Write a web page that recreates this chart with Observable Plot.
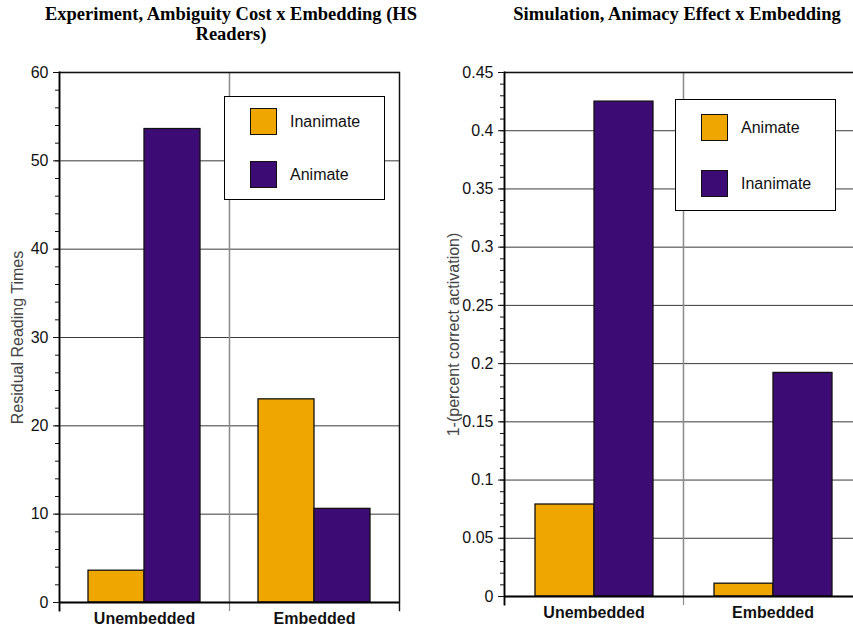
<!DOCTYPE html>
<html>
<head>
<meta charset="utf-8">
<script src="https://cdn.jsdelivr.net/npm/d3@7"></script>
<script src="https://cdn.jsdelivr.net/npm/@observablehq/plot@0.6"></script>
<style>
  html, body { margin: 0; padding: 0; background: #fff; overflow: hidden; }
  #page { position: relative; width: 853px; height: 630px; overflow: hidden; }
  .panel { position: absolute; top: 0; }
  .title { position: absolute; font-family: "Liberation Serif", "Times New Roman", serif; font-weight: bold; font-size: 18.5px; line-height: 20px; text-align: center; color: #000; white-space: nowrap; }
  .legend { position: absolute; border: 1px solid #000; background: #fff; box-sizing: border-box; font-family: "Liberation Sans", Arial, sans-serif; font-size: 16px; color: #111; }
  .legend .item { position: absolute; display: flex; align-items: center; }
  .legend .swatch { width: 27px; height: 27px; border: 1.3px solid #111; box-sizing: border-box; margin-right: 13px; }
</style>
</head>
<body>
<div id="page"></div>
<script>
// Categories along the x axis, shared by both panels
const categories = ["Unembedded", "Embedded"];

// Experiment panel: residual reading times
const expSeries = ["Inanimate", "Animate"];
const expInanimate = [3.6, 23.0];
const expAnimate = [53.6, 10.6];
const expYTicks = [0, 10, 20, 30, 40, 50, 60];
const expYMinor = d3.range(0, 61, 2);

// Simulation panel: 1 - percent correct activation
const simSeries = ["Animate", "Inanimate"];
const simAnimate = [0.079, 0.011];
const simInanimate = [0.425, 0.192];
const simYTicks = [0, 0.05, 0.1, 0.15, 0.2, 0.25, 0.3, 0.35, 0.4, 0.45];
const simYMinor = d3.range(0, 46, 1).map(d => d / 100);

const seriesColors = ["#EFA700", "#3C0C74"];

const page = document.getElementById("page");

function panel({series, values, yTicks, yMinor, yLabel, left, width, marginLeft, marginRight, marginBottom, labelOffset, rightBorder}) {
  const rows = categories.flatMap((category, i) =>
    series.map((s, j) => ({category, series: s, value: values[j][i]}))
  );
  const yMax = yTicks[yTicks.length - 1];
  const marks = [
    Plot.gridY(yTicks, {stroke: "#3a3a3a", strokeOpacity: 1, strokeWidth: 1}),
    Plot.frame({stroke: "#8c8c8c", strokeWidth: 1.2}),
    Plot.frame({anchor: "left", insetBottom: -8, stroke: "#8c8c8c", strokeWidth: 1.2}),
    Plot.barY(rows, {fx: "category", x: "series", y: "value", fill: "series", stroke: "#111", strokeWidth: 1.3}),
    Plot.ruleY([yMax], {stroke: "#111", strokeWidth: 1.3}),
    Plot.ruleY([0], {stroke: "#000", strokeWidth: 2}),
    Plot.frame({anchor: "left", facetAnchor: "left", insetBottom: -8, stroke: "#000", strokeWidth: 1.8}),
    Plot.axisY({ticks: yMinor, tickSize: 4, tickFormat: () => "", label: null, stroke: "#111"}),
    Plot.axisY({ticks: yTicks, tickSize: 6, tickPadding: 5, fontSize: 16, fill: "#111", tickFormat: d => String(d), label: null}),
    // rotated axis title, centred on the frame's left edge
    Plot.text([yLabel], {frameAnchor: "left", facetAnchor: "left", rotate: -90, dx: -labelOffset, textAnchor: "middle",
      fontSize: 16, fill: "#444"}),
    Plot.axisFx({anchor: "bottom", tickSize: 0, tickPadding: 10, fontSize: 16, fontWeight: "bold", label: null})
  ];
  if (rightBorder) {
    marks.push(Plot.frame({anchor: "right", facetAnchor: "right", insetBottom: -8, stroke: "#111", strokeWidth: 1.4}));
  }
  const chart = Plot.plot({
    width,
    height: 630,
    marginTop: 72,
    marginBottom,
    marginLeft,
    marginRight,
    style: {fontFamily: "'Liberation Sans', Arial, sans-serif", background: "transparent", overflow: "visible", color: "#111"},
    fx: {domain: categories, padding: 0, label: null},
    x: {domain: series, paddingInner: 0, paddingOuter: 0.5, axis: null},
    y: {domain: [0, yMax]},
    color: {domain: series, range: seriesColors},
    marks
  });
  chart.classList.add("panel");
  chart.style.left = left + "px";
  page.appendChild(chart);
}

function legend({series, left, top, width, height, rowTops}) {
  const box = document.createElement("div");
  box.className = "legend";
  Object.assign(box.style, {left: left + "px", top: top + "px", width: width + "px", height: height + "px"});
  series.forEach((s, i) => {
    const item = document.createElement("div");
    item.className = "item";
    Object.assign(item.style, {left: "25px", top: rowTops[i] + "px"});
    const sw = document.createElement("div");
    sw.className = "swatch";
    sw.style.background = seriesColors[i];
    const label = document.createElement("span");
    label.textContent = s;
    item.appendChild(sw);
    item.appendChild(label);
    box.appendChild(item);
  });
  page.appendChild(box);
}

function title(lines, centerX, top) {
  const t = document.createElement("div");
  t.className = "title";
  t.innerHTML = lines.join("<br>");
  t.style.top = top + "px";
  t.style.left = (centerX - 250) + "px";
  t.style.width = "500px";
  page.appendChild(t);
}

panel({series: expSeries, values: [expInanimate, expAnimate], yTicks: expYTicks, yMinor: expYMinor,
  yLabel: "Residual Reading Times", left: 0, width: 430, marginLeft: 59, marginRight: 31, marginBottom: 28,
  labelOffset: 42, rightBorder: true});

panel({series: simSeries, values: [simAnimate, simInanimate], yTicks: simYTicks, yMinor: simYMinor,
  yLabel: "1-(percent correct activation)", left: 430, width: 432, marginLeft: 74, marginRight: 0, marginBottom: 34,
  labelOffset: 51, rightBorder: false});

legend({series: expSeries, left: 224, top: 96, width: 161, height: 104, rowTops: [11, 64]});
legend({series: simSeries, left: 675, top: 99, width: 161, height: 112, rowTops: [14, 70]});

title(["Experiment, Ambiguity Cost x Embedding (HS", "Readers)"], 231, 4);
title(["Simulation, Animacy Effect x Embedding"], 677, 4);
</script>
</body>
</html>
